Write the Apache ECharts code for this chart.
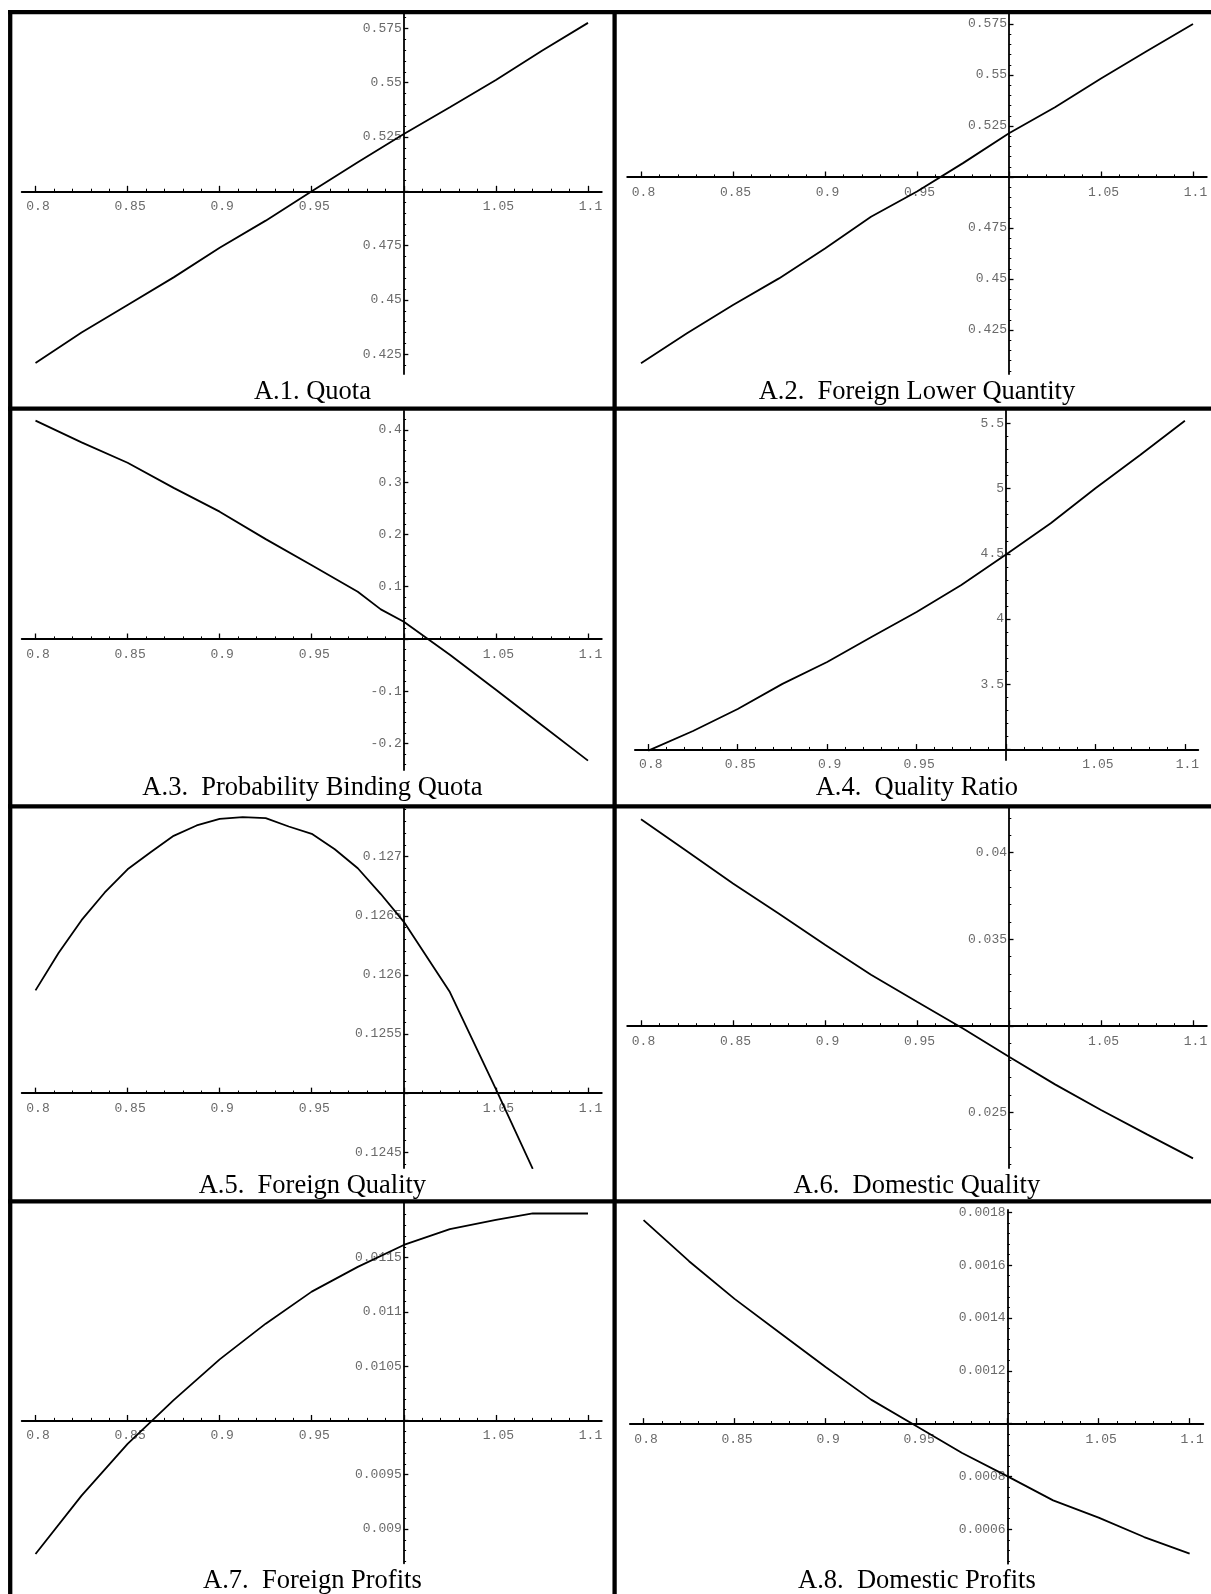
<!DOCTYPE html>
<html>
<head>
<meta charset="utf-8">
<script src="https://cdn.jsdelivr.net/npm/echarts@6/dist/echarts.min.js"></script>
<style>
html,body{margin:0;padding:0;background:#fff;overflow:hidden;}
#c{width:1211px;height:1594px;}
</style>
</head>
<body>
<div id="c"></div>
<script>
// ---------------- data ----------------
const xGrid = [0.8, 0.825, 0.85, 0.875, 0.9, 0.925, 0.95, 0.975, 1.0, 1.025, 1.05, 1.075, 1.1];

const quotaY = [0.421, 0.435, 0.4477, 0.4604, 0.474, 0.4865, 0.5, 0.5134, 0.5264, 0.5387, 0.5512, 0.5647, 0.5775];
const lowerQuantityY = [0.4087, 0.4234, 0.4373, 0.4503, 0.465, 0.4805, 0.4929, 0.5068, 0.5214, 0.5342, 0.5483, 0.5618, 0.575];

const bindingX = [0.8, 0.825, 0.85, 0.875, 0.9, 0.925, 0.95, 0.975, 0.9875, 1.0, 1.025, 1.05, 1.075, 1.1];
const bindingY = [0.4175, 0.376, 0.337, 0.289, 0.2435, 0.191, 0.141, 0.0905, 0.0567, 0.0331, -0.030, -0.097, -0.165, -0.2326];

const qualityRatioY = [2.992, 3.142, 3.311, 3.503, 3.671, 3.865, 4.054, 4.261, 4.494, 4.734, 5.002, 5.257, 5.52];

const foreignQualityX = [0.8, 0.8125, 0.825, 0.8375, 0.85, 0.8625, 0.875, 0.8875, 0.9, 0.9125, 0.925, 0.9375, 0.95, 0.9625, 0.975, 0.9875, 1.0, 1.025, 1.05, 1.07];
const foreignQualityY = [0.125869, 0.126186, 0.126463, 0.126695, 0.126893, 0.127037, 0.127176, 0.127264, 0.127320, 0.127334, 0.127326, 0.127255, 0.127193, 0.127063, 0.126902, 0.126684, 0.126449, 0.125855, 0.125034, 0.12436];

const domesticQualityY = [0.041932, 0.040085, 0.038218, 0.036466, 0.034677, 0.032945, 0.031386, 0.029846, 0.028210, 0.026613, 0.025131, 0.023726, 0.022340];

const foreignProfitsX = [0.8, 0.825, 0.85, 0.875, 0.9, 0.925, 0.95, 0.975, 1.0, 1.025, 1.05, 1.07, 1.1];
const foreignProfitsY = [0.008770, 0.009308, 0.009785, 0.010188, 0.010563, 0.010892, 0.011187, 0.011415, 0.011617, 0.011762, 0.011848, 0.011907, 0.011907];

const domesticProfitsY = [0.0017702, 0.0016149, 0.0014722, 0.0013434, 0.0012146, 0.0010909, 0.0009899, 0.0008889, 0.0008005, 0.0007096, 0.0006439, 0.0005707, 0.0005076];

// tick labels
const xTickValues = [0.8, 0.85, 0.9, 0.95, 1.0, 1.05, 1.1];
const xTickLabels = [0.8, 0.85, 0.9, 0.95, 1.05, 1.1];
const quotaTicks = [0.425, 0.45, 0.475, 0.525, 0.55, 0.575];
const lowerQuantityTicks = [0.425, 0.45, 0.475, 0.525, 0.55, 0.575];
const bindingTicks = [-0.2, -0.1, 0.1, 0.2, 0.3, 0.4];
const qualityRatioTicks = [3.5, 4, 4.5, 5, 5.5];
const foreignQualityTicks = [0.1245, 0.1255, 0.126, 0.1265, 0.127];
const domesticQualityTicks = [0.025, 0.035, 0.04];
const foreignProfitsTicks = [0.009, 0.0095, 0.0105, 0.011, 0.0115];
const domesticProfitsTicks = [0.0006, 0.0008, 0.0012, 0.0014, 0.0016, 0.0018];

const titles = ['A.1. Quota', 'A.2.  Foreign Lower Quantity', 'A.3.  Probability Binding Quota', 'A.4.  Quality Ratio',
  'A.5.  Foreign Quality', 'A.6.  Domestic Quality', 'A.7.  Foreign Profits', 'A.8.  Domestic Profits'];

// axis crossing values (the origin of each panel)
const xCross = 1.0;
const yCross = [0.5, 0.5, 0, 3, 0.125, 0.03, 0.01, 0.001];

// ---------------- panel definitions ----------------
const panels = [
  {x: xGrid, y: quotaY, ticks: quotaTicks, major: 0.025, minor: 0.005},
  {x: xGrid, y: lowerQuantityY, ticks: lowerQuantityTicks, major: 0.025, minor: 0.005},
  {x: bindingX, y: bindingY, ticks: bindingTicks, major: 0.1, minor: 0.02},
  {x: xGrid, y: qualityRatioY, ticks: qualityRatioTicks, major: 0.5, minor: 0.1},
  {x: foreignQualityX, y: foreignQualityY, ticks: foreignQualityTicks, major: 0.0005, minor: 0.0001},
  {x: xGrid, y: domesticQualityY, ticks: domesticQualityTicks, major: 0.005, minor: 0.001},
  {x: foreignProfitsX, y: foreignProfitsY, ticks: foreignProfitsTicks, major: 0.0005, minor: 0.0001},
  {x: xGrid, y: domesticProfitsY, ticks: domesticProfitsTicks, major: 0.0002, minor: 0.00004}
];

// layout: grid boxes (px) and axis ranges
const X_MIN = 0.7925, X_MAX = 1.1075;
const LAYOUT = [
  {left: 21.7, right: 601.8, top: 14, bottom: 374, ymin: 0.41594, ymax: 0.58158},
  {left: 627.2, right: 1206.8, top: 14, bottom: 374, ymin: 0.40343, ymax: 0.5799},
  {left: 21.7, right: 601.8, top: 411, bottom: 770, ymin: -0.25048, ymax: 0.43595},
  {left: 634.9, right: 1198.3, top: 410.7, bottom: 760, ymin: 2.9199, ymax: 5.5966},
  {left: 21.7, right: 601.8, top: 807, bottom: 1168, ymin: 0.124367, ymax: 0.127420},
  {left: 627.2, right: 1206.8, top: 807, bottom: 1168, ymin: 0.021782, ymax: 0.042641},
  {left: 21.7, right: 601.8, top: 1203.5, bottom: 1563.3, ymin: 0.008684, ymax: 0.011999},
  {left: 629.9, right: 1203.3, top: 1210, bottom: 1563.7, ymin: 0.00046978, ymax: 0.0018087}
];
const COL_X = [10.2, 614.6, 1219.2];
const ROW_Y = [12.2, 408.7, 806.3, 1201.3, 1597.5];

// ---------------- helpers ----------------
const fmt = v => String(parseFloat(Number(v).toPrecision(8)));
function stepValues(min, max, step) {
  const out = [];
  const k0 = Math.ceil(min / step - 1e-9), k1 = Math.floor(max / step + 1e-9);
  for (let k = k0; k <= k1; k++) out.push(parseFloat((k * step).toPrecision(10)));
  return out;
}
const xMinorTicks = stepValues(0.8, 1.1, 0.01);

const labelStyle = {
  fontFamily: '"Liberation Mono", "Courier New", monospace',
  fontSize: 13,
  color: '#6a6a6a'
};

const option = {
  animation: false,
  backgroundColor: '#ffffff',
  grid: [], xAxis: [], yAxis: [], series: [], graphic: []
};

panels.forEach((p, i) => {
  const g = LAYOUT[i];
  option.grid.push({
    left: g.left, top: g.top, width: g.right - g.left, height: g.bottom - g.top,
    containLabel: false, outerBoundsMode: 'none', show: false
  });
  const xBase = {type: 'value', gridIndex: i, min: X_MIN, max: X_MAX, position: 'bottom', offset: 0,
    splitLine: {show: false}, axisPointer: {show: false}};
  option.xAxis.push(Object.assign({}, xBase, {
    axisLine: {show: true, onZero: false, lineStyle: {color: '#000', width: 1.8}},
    axisTick: {show: true, inside: true, length: 5.5, customValues: xTickValues, lineStyle: {color: '#000', width: 1.3}},
    axisLabel: Object.assign({show: true, customValues: xTickLabels, margin: 9, formatter: fmt, padding: [0, 0, 0, 5]}, labelStyle)
  }));
  option.xAxis.push(Object.assign({}, xBase, {
    axisLine: {show: false, onZero: false},
    axisTick: {show: true, inside: true, length: 2.6, customValues: xMinorTicks, lineStyle: {color: '#000', width: 1}},
    axisLabel: {show: false}
  }));
  const yBase = {type: 'value', gridIndex: i, min: g.ymin, max: g.ymax, position: 'left', offset: 0,
    splitLine: {show: false}, axisPointer: {show: false}};
  option.yAxis.push(Object.assign({}, yBase, {
    axisLine: {show: true, onZero: false, lineStyle: {color: '#000', width: 1.8}},
    axisTick: {show: true, inside: true, length: 4.5, customValues: stepValues(g.ymin, g.ymax, p.major), lineStyle: {color: '#000', width: 1.3}},
    axisLabel: Object.assign({show: true, customValues: p.ticks, margin: 2, formatter: fmt}, labelStyle)
  }));
  option.yAxis.push(Object.assign({}, yBase, {
    axisLine: {show: false, onZero: false},
    axisTick: {show: true, inside: true, length: 2.3, customValues: stepValues(g.ymin, g.ymax, p.minor), lineStyle: {color: '#000', width: 1}},
    axisLabel: {show: false}
  }));
  option.series.push({
    type: 'line', xAxisIndex: 2 * i, yAxisIndex: 2 * i,
    data: p.x.map((xv, k) => [xv, p.y[k]]),
    symbol: 'none', showSymbol: false, smooth: false, clip: true, silent: true, z: 5,
    lineStyle: {color: '#000', width: 1.8}
  });
  // panel title
  const col = i % 2, row = Math.floor(i / 2);
  option.graphic.push({
    type: 'text', silent: true,
    x: (COL_X[col] + COL_X[col + 1]) / 2, y: ROW_Y[row] + 379.6,
    style: {text: titles[i], fill: '#000', font: '26.5px "Liberation Serif", "Times New Roman", serif',
      textAlign: 'center', align: 'center', textVerticalAlign: 'middle', verticalAlign: 'middle'}
  });
});

// cell borders
COL_X.forEach(x => option.graphic.push({type: 'line', silent: true, z: 100,
  shape: {x1: x, y1: ROW_Y[0] - 2.1, x2: x, y2: 1600}, style: {stroke: '#000', lineWidth: 4.3}}));
ROW_Y.forEach(y => option.graphic.push({type: 'line', silent: true, z: 100,
  shape: {x1: COL_X[0] - 2.1, y1: y, x2: 1220, y2: y}, style: {stroke: '#000', lineWidth: 4.3}}));

const chart = echarts.init(document.getElementById('c'), null, {renderer: 'canvas', width: 1211, height: 1594});
chart.setOption(option);

// place the axes so they cross at (xCross, yCross) using the library's scales
const upd = {xAxis: [], yAxis: []};
LAYOUT.forEach((g, i) => {
  let pt = null;
  try { pt = chart.convertToPixel({xAxisIndex: 2 * i, yAxisIndex: 2 * i}, [xCross, yCross[i]]); } catch (e) { pt = null; }
  if (!pt || !isFinite(pt[0]) || !isFinite(pt[1])) {
    pt = [g.left + (xCross - X_MIN) / (X_MAX - X_MIN) * (g.right - g.left),
          g.top + (g.ymax - yCross[i]) / (g.ymax - g.ymin) * (g.bottom - g.top)];
  }
  const offX = pt[1] - g.bottom;
  const offY = g.left - pt[0];
  upd.xAxis.push({offset: offX}, {offset: offX});
  upd.yAxis.push({offset: offY}, {offset: offY});
});
chart.setOption(upd);
</script>
</body>
</html>
